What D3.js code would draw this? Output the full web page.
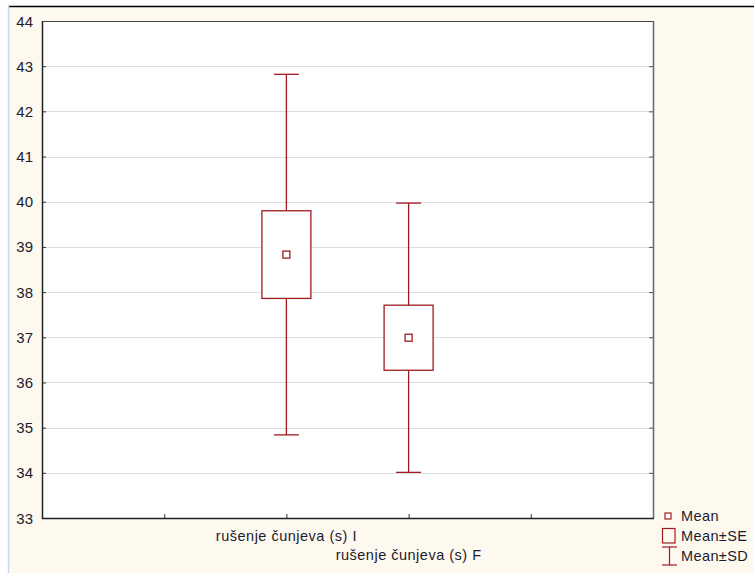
<!DOCTYPE html>
<html>
<head>
<meta charset="utf-8">
<script src="https://cdn.jsdelivr.net/npm/d3@7/dist/d3.min.js"></script>
<style>
  html, body { margin: 0; padding: 0; background: #ffffff; }
  svg { display: block; }
  text { font-family: Arial, "Liberation Sans", sans-serif; }
</style>
</head>
<body>
<svg id="chart" width="754" height="573"></svg>
<script>
// Variables and summary statistics
const categories = ["rušenje čunjeva (s) I", "rušenje čunjeva (s) F"];
const means = [38.83, 36.99];
const stdErrors = [0.97, 0.72];
const stdDevs = [3.99, 2.98];
const yTicks = [33, 34, 35, 36, 37, 38, 39, 40, 41, 42, 43, 44];
const legendLabels = ["Mean", "Mean±SE", "Mean±SD"];

const W = 754, H = 573;
const plot = { left: 42, right: 653, top: 21, bottom: 518 };
const red = "#9e1b20";
const textColor = "#1c1c30";

const svg = d3.select("#chart");

// page background and frame
svg.append("rect").attr("x", 0).attr("y", 0).attr("width", W).attr("height", H).attr("fill", "#ffffff");
svg.append("rect").attr("x", 8.5).attr("y", 6).attr("width", W - 8.5).attr("height", H - 6).attr("fill", "#fef9ef");
svg.append("line").attr("x1", 8.5).attr("x2", W).attr("y1", 6.5).attr("y2", 6.5)
  .attr("stroke", "#000").attr("stroke-width", 1.5);
svg.append("line").attr("x1", 8.5).attr("x2", 8.5).attr("y1", 6).attr("y2", H)
  .attr("stroke", "#c9d7ea").attr("stroke-width", 1.5);

// scales: two variables placed on slots 2 and 3 of five
const x = d3.scaleLinear().domain([0, 5]).range([plot.left, plot.right]);
const y = d3.scaleLinear().domain([33, 44]).range([plot.bottom, plot.top]);
const xPos = i => x(i + 2);

// plot area
svg.append("rect").attr("x", plot.left).attr("y", plot.top)
  .attr("width", plot.right - plot.left).attr("height", plot.bottom - plot.top)
  .attr("fill", "#ffffff");

// horizontal grid
svg.append("g").selectAll("line").data(yTicks.filter(t => t > 33 && t < 44)).join("line")
  .attr("x1", plot.left).attr("x2", plot.right)
  .attr("y1", d => Math.round(y(d)) + 0.5).attr("y2", d => Math.round(y(d)) + 0.5)
  .attr("stroke", "#dedede").attr("stroke-width", 1);

// y axis (left), ticks pointing inward
const gy = svg.append("g").attr("transform", `translate(${plot.left},0)`)
  .call(d3.axisRight(y).tickValues(yTicks).tickSize(4).tickFormat(""));
gy.select(".domain").remove();
gy.selectAll(".tick line").attr("stroke", "#333");

// right axis ticks pointing inward
const gyr = svg.append("g").attr("transform", `translate(${plot.right},0)`)
  .call(d3.axisLeft(y).tickValues(yTicks).tickSize(4).tickFormat(""));
gyr.select(".domain").remove();
gyr.selectAll(".tick line").attr("stroke", "#555");

// y tick labels
svg.append("g").selectAll("text").data(yTicks).join("text")
  .attr("x", 33).attr("y", d => y(d) + 5.5)
  .attr("text-anchor", "end").attr("font-size", 15).attr("fill", textColor)
  .text(d => d);

// x axis ticks pointing up
const gx = svg.append("g").attr("transform", `translate(0,${plot.bottom})`)
  .call(d3.axisTop(x).tickValues([1, 2, 3, 4]).tickSize(4).tickFormat(""));
gx.select(".domain").remove();
gx.selectAll(".tick line").attr("stroke", "#333");

// plot border
svg.append("line").attr("x1", plot.left).attr("x2", plot.right).attr("y1", plot.top + 0.5).attr("y2", plot.top + 0.5)
  .attr("stroke", "#444").attr("stroke-width", 1.2);
svg.append("line").attr("x1", plot.right + 0.5).attr("x2", plot.right + 0.5).attr("y1", plot.top).attr("y2", plot.bottom)
  .attr("stroke", "#666").attr("stroke-width", 1.5);
svg.append("line").attr("x1", plot.left + 0.5).attr("x2", plot.left + 0.5).attr("y1", plot.top).attr("y2", plot.bottom + 1)
  .attr("stroke", "#222").attr("stroke-width", 1.5);
svg.append("line").attr("x1", plot.left).attr("x2", plot.right + 1).attr("y1", plot.bottom + 0.5).attr("y2", plot.bottom + 0.5)
  .attr("stroke", "#222").attr("stroke-width", 1.5);

// x category labels, staggered
svg.append("g").selectAll("text").data(categories).join("text")
  .attr("x", (d, i) => xPos(i)).attr("y", (d, i) => 541 + i * 19)
  .attr("text-anchor", "middle").attr("font-size", 14.5).attr("letter-spacing", 0.5)
  .attr("fill", textColor)
  .text(d => d);

// whiskers (mean ± SD), boxes (mean ± SE), mean markers
const boxW = 49, capW = 25, markW = 7;
const groups = svg.append("g").selectAll("g").data(means).join("g");

groups.append("line")
  .attr("x1", (d, i) => xPos(i)).attr("x2", (d, i) => xPos(i))
  .attr("y1", (d, i) => y(d + stdDevs[i])).attr("y2", (d, i) => y(d - stdDevs[i]))
  .attr("stroke", red).attr("stroke-width", 1.3);
groups.selectAll("line.cap").data((d, i) => [d + stdDevs[i], d - stdDevs[i]].map(v => ({ v, i }))).join("line")
  .attr("class", "cap")
  .attr("x1", c => xPos(c.i) - capW / 2).attr("x2", c => xPos(c.i) + capW / 2)
  .attr("y1", c => y(c.v)).attr("y2", c => y(c.v))
  .attr("stroke", red).attr("stroke-width", 1.3);
groups.append("rect")
  .attr("x", (d, i) => xPos(i) - boxW / 2)
  .attr("y", (d, i) => y(d + stdErrors[i]))
  .attr("width", boxW)
  .attr("height", (d, i) => y(d - stdErrors[i]) - y(d + stdErrors[i]))
  .attr("fill", "#ffffff").attr("stroke", red).attr("stroke-width", 1.3);
groups.append("rect")
  .attr("x", (d, i) => xPos(i) - markW / 2).attr("y", d => y(d) - markW / 2)
  .attr("width", markW).attr("height", markW)
  .attr("fill", "#ffffff").attr("stroke", red).attr("stroke-width", 1.3);

// legend
const lg = svg.append("g");
lg.append("rect").attr("x", 665).attr("y", 513).attr("width", 6).attr("height", 6)
  .attr("fill", "#fff").attr("stroke", red).attr("stroke-width", 1.2);
lg.append("rect").attr("x", 662.5).attr("y", 528.5).attr("width", 12.5).attr("height", 14.5)
  .attr("fill", "none").attr("stroke", red).attr("stroke-width", 1.2);
lg.append("line").attr("x1", 669.5).attr("x2", 669.5).attr("y1", 547).attr("y2", 565).attr("stroke", red).attr("stroke-width", 1.2);
lg.append("line").attr("x1", 662).attr("x2", 677).attr("y1", 547).attr("y2", 547).attr("stroke", red).attr("stroke-width", 1.2);
lg.append("line").attr("x1", 662).attr("x2", 677).attr("y1", 565).attr("y2", 565).attr("stroke", red).attr("stroke-width", 1.2);
lg.selectAll("text").data(legendLabels).join("text")
  .attr("x", 681).attr("y", (d, i) => [521, 541, 561][i])
  .attr("font-size", 14.5).attr("letter-spacing", 0.4).attr("fill", textColor)
  .text(d => d);
</script>
</body>
</html>
